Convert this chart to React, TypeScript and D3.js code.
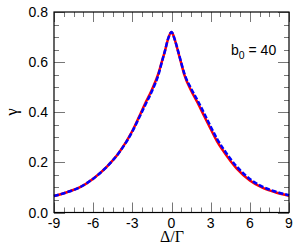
import React, { useEffect, useRef } from 'react';
import * as d3 from 'd3';

// detuning Δ/Γ and γ
const detuning = [-9, -8, -7, -6, -5, -4, -3, -2.5, -2, -1.5, -1, -0.75, -0.5, -0.25, 0, 0.25, 0.5, 0.75, 1, 1.5, 2, 2.5, 3, 3.5, 4, 5, 6, 7, 8, 9];
const gammaRed = [0.066, 0.081, 0.101, 0.135, 0.18, 0.24, 0.325, 0.38, 0.437, 0.49, 0.555, 0.6, 0.645, 0.695, 0.72, 0.69, 0.643, 0.594, 0.547, 0.487, 0.438, 0.385, 0.333, 0.283, 0.243, 0.175, 0.128, 0.098, 0.08, 0.067];
const gammaBlue = [0.066, 0.081, 0.101, 0.135, 0.18, 0.24, 0.323, 0.376, 0.43, 0.484, 0.55, 0.598, 0.645, 0.695, 0.72, 0.69, 0.645, 0.597, 0.552, 0.495, 0.447, 0.396, 0.343, 0.293, 0.252, 0.183, 0.134, 0.102, 0.083, 0.069];
const xTicks = [-9, -6, -3, 0, 3, 6, 9];
const yTicks = [0, 0.2, 0.4, 0.6, 0.8];

const App = () => {
    const svgRef = useRef(null);

    useEffect(() => {
        const width = 307;
        const height = 245;
        const left = 54, right = 289, top = 12, bottom = 212.5;

        const svg = d3.select(svgRef.current)
            .attr('width', width)
            .attr('height', height);
        svg.selectAll('*').remove();

        const x = d3.scaleLinear().domain([-9, 9]).range([left, right]);
        const y = d3.scaleLinear().domain([0, 0.8]).range([bottom, top]);

        const tickColor = '#777';

        // minor + major ticks, mirrored on all four sides
        const xMinor = d3.range(-9, 9.001, 0.75);
        xMinor.forEach(v => {
            const major = xTicks.some(t => Math.abs(t - v) < 1e-6);
            const len = major ? 10 : 5;
            const px = Math.round(x(v)) + 0.5;
            svg.append('line').attr('x1', px).attr('x2', px).attr('y1', bottom).attr('y2', bottom - len).attr('stroke', tickColor);
            svg.append('line').attr('x1', px).attr('x2', px).attr('y1', top).attr('y2', top + len).attr('stroke', tickColor);
        });
        const yMinor = d3.range(0, 0.8001, 0.05);
        yMinor.forEach(v => {
            const major = yTicks.some(t => Math.abs(t - v) < 1e-6);
            const len = major ? 11 : 5;
            const py = Math.round(y(v)) + 0.5;
            svg.append('line').attr('x1', left).attr('x2', left + len).attr('y1', py).attr('y2', py).attr('stroke', tickColor);
            svg.append('line').attr('x1', right).attr('x2', right - len).attr('y1', py).attr('y2', py).attr('stroke', tickColor);
        });

        // curves
        const line = d3.line()
            .x((d) => x(d[0]))
            .y((d) => y(d[1]))
            .curve(d3.curveMonotoneX);

        svg.append('path')
            .attr('d', line(detuning.map((d, i) => [d, gammaRed[i]])))
            .attr('fill', 'none')
            .attr('stroke', '#ff0000')
            .attr('stroke-width', 2.5);

        svg.append('path')
            .attr('d', line(detuning.map((d, i) => [d, gammaBlue[i]])))
            .attr('fill', 'none')
            .attr('stroke', '#0000ff')
            .attr('stroke-width', 2.5)
            .attr('stroke-dasharray', '5,2');

        // frame
        svg.append('rect')
            .attr('x', left).attr('y', top)
            .attr('width', right - left).attr('height', bottom - top)
            .attr('fill', 'none').attr('stroke', '#000').attr('stroke-width', 1.2);

        // tick labels
        const font = '"Liberation Sans", Arial, sans-serif';
        svg.selectAll('.xlab').data(xTicks).enter().append('text')
            .attr('x', d => x(d))
            .attr('y', 227.5)
            .attr('text-anchor', 'middle')
            .style('font-family', font).style('font-size', '14px')
            .text(d => String(d));

        svg.selectAll('.ylab').data(yTicks).enter().append('text')
            .attr('x', 48)
            .attr('y', d => y(d) + 5)
            .attr('text-anchor', 'end')
            .style('font-family', font).style('font-size', '14px')
            .text(d => d.toFixed(1));

        // axis titles
        svg.append('text')
            .attr('x', 172).attr('y', 241.5)
            .attr('text-anchor', 'middle')
            .style('font-family', '"Liberation Serif", "Times New Roman", serif').style('font-size', '16px')
            .text('Δ/Γ');

        svg.append('text')
            .attr('transform', 'translate(17,112) rotate(-90)')
            .attr('text-anchor', 'middle')
            .style('font-family', '"Liberation Serif", "Times New Roman", serif').style('font-size', '17px')
            .text('γ');

        // annotation
        const ann = svg.append('text')
            .attr('x', 231).attr('y', 55)
            .style('font-family', font).style('font-size', '14px');
        ann.append('tspan').text('b');
        ann.append('tspan').attr('dy', 4).style('font-size', '10.5px').text('0');
        ann.append('tspan').attr('dy', -4).text(' = 40');
    }, []);

    return <svg ref={svgRef} style={{ position: 'absolute', left: 0, top: 0 }}></svg>;
};

export default App;
